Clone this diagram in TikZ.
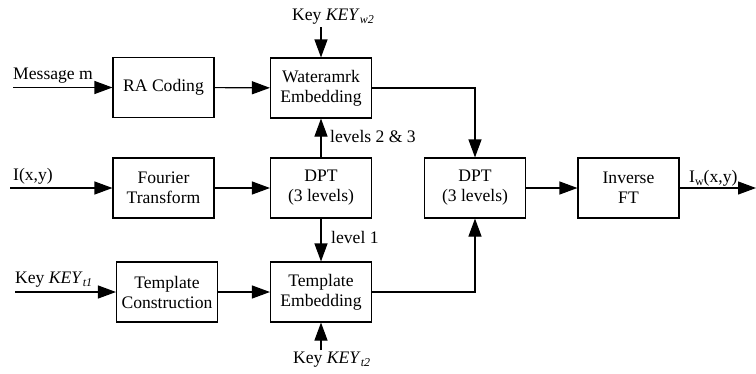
\documentclass[tikz,border=0pt]{standalone}
\usepackage{fontspec}
\setmainfont{Liberation Serif}
\usetikzlibrary{arrows.meta}
% lowered small subscript in text mode
\newcommand{\lowsub}[1]{\raisebox{-0.4ex}{\fontsize{12}{12}\selectfont #1}}
\begin{document}
\begin{tikzpicture}[x=1pt,y=-1pt,
  font=\fontsize{17.6}{20}\selectfont,
  blk/.style={draw, line width=1.1pt, minimum width=101pt, minimum height=60pt,
              inner sep=0pt, align=center},
  flow/.style={line width=1.1pt, -{Triangle[length=18pt,width=13pt]}},
  lbl/.style={inner sep=0pt}]
\useasboundingbox (0,0) rectangle (756,373);

% processing blocks
\node[blk] (ra)   at (163.5,87.5) {RA Coding};
\node[blk] (wm)   at (321,88)     {Wateramrk\\Embedding};
\node[blk] (ft)   at (163.5,188)  {Fourier\\Transform};
\node[blk] (dpta) at (321,188)    {DPT\\(3 levels)};
\node[blk] (tc)   at (167,292)    {Template\\Construction};
\node[blk] (te)   at (321,292)    {Template\\Embedding};
\node[blk] (dptb) at (475,188)    {DPT\\(3 levels)};
\node[blk] (ift)  at (628.5,188)  {Inverse\\FT};

% free ends of the input / output lines
\coordinate (msg)  at (13,87.5);
\coordinate (img)  at (10,188);
\coordinate (kt1)  at (15,292);
\coordinate (kw2)  at (321,27);
\coordinate (kt2)  at (321,350);
\coordinate (out)  at (756,188);

% labels
\node[lbl, anchor=base west] (lmsg) at (13,79)  {Message m};
\node[lbl, anchor=base west] (limg) at (13,180) {I(x,y)};
\node[lbl, anchor=base west] (lkt1) at (15,283) {Key \textit{KEY}\lowsub{\textit{t1}}};
\node[lbl, anchor=base west] (lkw2) at (292,20) {Key \textit{KEY}\lowsub{\textit{w2}}};
\node[lbl, anchor=base west] (lkt2) at (293,363) {Key \textit{KEY}\lowsub{\textit{t2}}};
\node[lbl, anchor=base west] (l23)  at (330,142) {levels 2 \& 3};
\node[lbl, anchor=base west] (l1)   at (331,243) {level 1};
\node[lbl, anchor=base west] (lout) at (689,182) {I\lowsub{w}(x,y)};

% connectors
\draw[flow] (msg) -- (ra);
\draw[flow] (img) -- (ft);
\draw[flow] (kt1) -- (tc);
\draw[flow] (kw2) -- (wm);
\draw[flow] (kt2) -- (te);
\draw[flow] (ra) -- (wm);
\draw[flow] (ft) -- (dpta);
\draw[flow] (tc) -- (te);
\draw[flow] (dpta) -- (wm);
\draw[flow] (dpta) -- (te);
\draw[flow] (wm.east) -| (dptb.north);
\draw[flow] (te.east) -| (dptb.south);
\draw[flow] (dptb) -- (ift);
\draw[flow] (ift) -- (out);
\end{tikzpicture}
\end{document}
